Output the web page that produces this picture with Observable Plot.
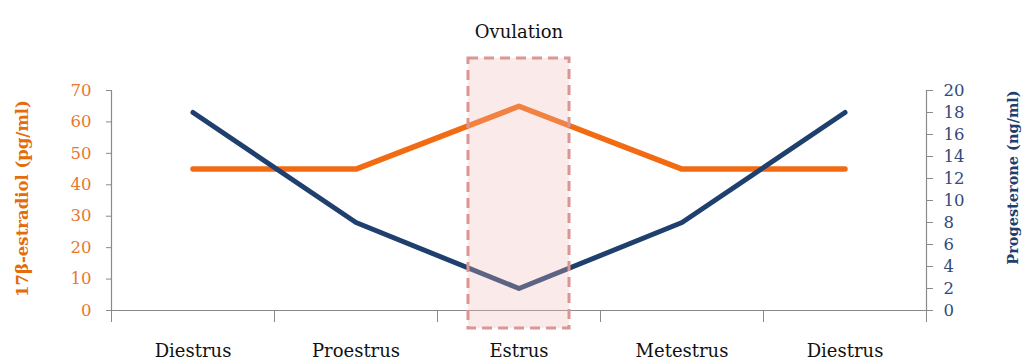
<!DOCTYPE html>
<html><head><meta charset="utf-8">
<script src="https://cdn.jsdelivr.net/npm/d3@7"></script>
<script src="https://cdn.jsdelivr.net/npm/@observablehq/plot@0.6"></script>
<style>
html,body{margin:0;padding:0;background:#fff;}
</style>
</head><body><div id="chart"></div>
<script>
// ---- data ----
const stages = ["Diestrus", "Proestrus", "Estrus", "Metestrus", "Diestrus"];
const estradiol = [45, 45, 65, 45, 45];        // pg/ml (left axis)
const progesterone = [18, 8, 2, 8, 18];        // ng/ml (right axis)
const estradiolTicks = [0, 10, 20, 30, 40, 50, 60, 70];
const progesteroneTicks = [0, 2, 4, 6, 8, 10, 12, 14, 16, 18, 20];
const ovulationStage = ["Estrus"];
const ovulationLabel = ["Ovulation"];
const leftTitle = ["17β-estradiol (pg/ml)"];
const rightTitle = ["Progesterone (ng/ml)"];

// ---- derived ----
const k = 70 / 20; // progesterone -> estradiol scale factor
const data = stages.map((s, i) => ({i, stage: s, e: estradiol[i], p: progesterone[i] * k}));
const ovIdx = stages.indexOf(ovulationStage[0]);
const bounds = d3.range(stages.length + 1).map(d => d - 0.5);
const serif = "DejaVu Serif, Liberation Serif, serif";
const grey = "#8a8a8a";
const orange = "#F26B12";
const navy = "#1F3F6E";

const chart = Plot.plot({
  width: 1023, height: 361,
  marginLeft: 111, marginRight: 97, marginTop: 90, marginBottom: 51,
  style: {fontFamily: serif, background: "#fff", overflow: "visible"},
  x: {domain: [-0.5, stages.length - 0.5], axis: null},
  y: {domain: [0, 70], axis: null},
  marks: [
    Plot.ruleY([0], {stroke: grey, strokeWidth: 1.2}),
    Plot.ruleX([bounds[0], bounds[bounds.length - 1]], {y1: 0, y2: 70, stroke: grey, strokeWidth: 1.2}),
    Plot.axisX(bounds, {tickSize: 12, tickFormat: () => "", color: grey, label: null}),
    Plot.axisX(d3.range(stages.length), {tickSize: 0, tickPadding: 34, tickFormat: i => stages[i], fontSize: 18, fontFamily: serif, color: "#111", label: null}),
    Plot.axisY(estradiolTicks, {anchor: "left", tickSize: 5, tickFormat: () => "", color: grey, label: null}),
    Plot.axisY(estradiolTicks, {anchor: "left", tickSize: 0, tickPadding: 20, fontSize: 16.5, fontFamily: serif, color: "#E8772E", label: null}),
    Plot.axisY(progesteroneTicks.map(v => v * k), {anchor: "right", tickSize: 6, tickFormat: () => "", color: grey, label: null}),
    Plot.axisY(progesteroneTicks.map(v => v * k), {anchor: "right", tickSize: 0, tickPadding: 17, tickFormat: d => Math.round(d / k), fontSize: 16.5, fontFamily: serif, color: "#34497A", label: null}),
    Plot.line(data, {x: "i", y: "e", stroke: orange, strokeWidth: 5.5}),
    Plot.line(data, {x: "i", y: "p", stroke: navy, strokeWidth: 5}),
    Plot.rect(ovulationStage, {
      x1: () => ovIdx - 0.31, x2: () => ovIdx + 0.31, y1: () => -5.7, y2: () => 80.2,
      fill: "#EEB8B5", fillOpacity: 0.3, stroke: "#D99694", strokeWidth: 3, strokeDasharray: "10,6", clip: false
    }),
    Plot.text(ovulationLabel, {x: () => ovIdx, frameAnchor: "top", dy: -65, text: d => d, fontSize: 18, fontFamily: serif, fill: "#111"}),
    Plot.text(leftTitle, {frameAnchor: "left", dx: -89, dy: -2, rotate: -90, textAnchor: "middle", text: d => d, fill: "#E46C0A", fontWeight: "bold", fontSize: 16.5, fontFamily: serif}),
    Plot.text(rightTitle, {frameAnchor: "right", dx: 87, dy: -23, rotate: -90, textAnchor: "middle", text: d => d, fill: "#1F3F6E", fontWeight: "bold", fontSize: 14.5, fontFamily: serif})
  ]
});
document.getElementById("chart").appendChild(chart);
</script>
</body></html>
